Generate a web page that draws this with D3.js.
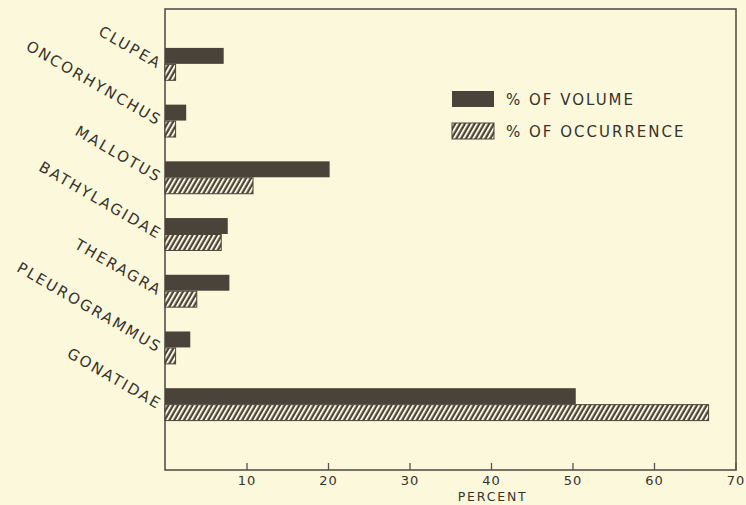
<!DOCTYPE html>
<html>
<head>
<meta charset="utf-8">
<script src="https://cdn.jsdelivr.net/npm/d3@7"></script>
<style>
  body { margin: 0; background: #fcf8dc; }
  svg { display: block; font-family: "DejaVu Sans", sans-serif; }
</style>
</head>
<body>
<svg id="chart" width="746" height="505"></svg>
<script>
// values
var categories = ["CLUPEA", "ONCORHYNCHUS", "MALLOTUS", "BATHYLAGIDAE", "THERAGRA", "PLEUROGRAMMUS", "GONATIDAE"];
var volume = [7.2, 2.6, 20.2, 7.7, 7.9, 3.1, 50.4];
var occurrence = [1.3, 1.3, 10.8, 6.9, 3.9, 1.3, 66.7];
var seriesNames = ["% OF VOLUME", "% OF OCCURRENCE"];
var tickValues = [10, 20, 30, 40, 50, 60, 70];

var svg = d3.select("#chart"),
    frame = { left: 165, top: 9, right: 736, bottom: 470 },
    ink = "#4a433a",
    textCol = "#36332d";

var x = d3.scaleLinear().domain([0, 70]).range([frame.left, 735.5]);
var y = d3.scaleBand().domain(categories).range([36, 433]).paddingInner(0.42).paddingOuter(0.21);
var sub = d3.scaleBand().domain([0, 1]).range([0, y.bandwidth()]);

// hatch pattern for occurrence bars
var defs = svg.append("defs");
var pat = defs.append("pattern")
    .attr("id", "hatch")
    .attr("patternUnits", "userSpaceOnUse")
    .attr("width", 4.2)
    .attr("height", 10)
    .attr("patternTransform", "rotate(30)");
pat.append("rect").attr("width", 4.2).attr("height", 10).attr("fill", ink);
pat.append("rect").attr("x", 0).attr("width", 2).attr("height", 10).attr("fill", "#fbf7de");

// frame
svg.append("rect")
    .attr("x", frame.left)
    .attr("y", frame.top)
    .attr("width", frame.right - frame.left)
    .attr("height", frame.bottom - frame.top)
    .attr("fill", "none")
    .attr("stroke", "#57524a")
    .attr("stroke-width", 1.6);

// bars
var rows = categories.map((c, i) => ({ cat: c, vals: [volume[i], occurrence[i]] }));
var groups = svg.selectAll("g.row")
    .data(rows)
    .enter().append("g")
    .attr("class", "row")
    .attr("transform", d => "translate(0," + y(d.cat) + ")");

groups.selectAll("rect")
    .data(d => d.vals)
    .enter().append("rect")
    .attr("x", x(0))
    .attr("y", (d, i) => sub(i))
    .attr("width", d => x(d) - x(0))
    .attr("height", sub.bandwidth() - 0.5)
    .attr("fill", (d, i) => i === 0 ? ink : "url(#hatch)")
    .attr("stroke", (d, i) => i === 0 ? "none" : ink)
    .attr("stroke-width", 1);

// category labels, slanted
svg.selectAll("text.cat")
    .data(categories)
    .enter().append("text")
    .attr("class", "cat")
    .attr("transform", d => "translate(158," + (y(d) + y.bandwidth() / 2 + 5) + ") rotate(30)")
    .attr("text-anchor", "end")
    .attr("font-size", 15)
    .attr("letter-spacing", 2)
    .attr("fill", textCol)
    .text(d => d);

// x axis, ticks pointing inward
var xAxis = d3.axisBottom(x)
    .tickValues(tickValues)
    .tickSizeInner(-7)
    .tickSizeOuter(0)
    .tickPadding(6)
    .tickFormat(d3.format("d"));

var gx = svg.append("g")
    .attr("transform", "translate(0," + frame.bottom + ")")
    .call(xAxis);
gx.select(".domain").remove();
gx.selectAll("line").attr("stroke", "#57524a").attr("stroke-width", 1.3);
gx.selectAll("text")
    .attr("font-family", "DejaVu Sans, sans-serif")
    .attr("font-size", 13)
    .attr("letter-spacing", 1)
    .attr("fill", textCol);

svg.append("text")
    .attr("x", x(40.2))
    .attr("y", 501)
    .attr("text-anchor", "middle")
    .attr("font-size", 12.5)
    .attr("letter-spacing", 1.8)
    .attr("fill", textCol)
    .text("PERCENT");

// legend
var legend = svg.selectAll("g.legend")
    .data(seriesNames)
    .enter().append("g")
    .attr("class", "legend")
    .attr("transform", (d, i) => "translate(452," + (91 + i * 32) + ")");

legend.append("rect")
    .attr("width", 42)
    .attr("height", 16)
    .attr("fill", (d, i) => i === 0 ? ink : "url(#hatch)")
    .attr("stroke", (d, i) => i === 0 ? "none" : ink);

legend.append("text")
    .attr("x", 54)
    .attr("y", 14)
    .attr("font-size", 15)
    .attr("letter-spacing", 2)
    .attr("fill", textCol)
    .text(d => d);
</script>
</body>
</html>
